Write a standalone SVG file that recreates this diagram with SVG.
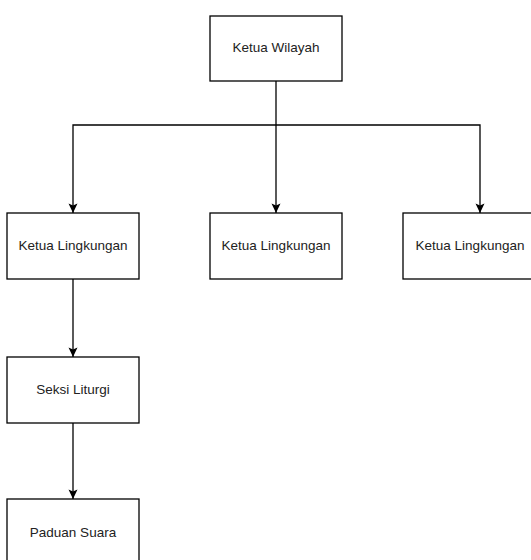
<svg xmlns="http://www.w3.org/2000/svg" width="531" height="560" viewBox="0 0 531 560">
<style>
.box{fill:#ffffff;stroke:#000000;stroke-width:1.3}
.lbl{font-family:"Liberation Sans",Arial,sans-serif;font-size:13.5px;fill:#222222;text-anchor:middle;dominant-baseline:central}
.edge{fill:none;stroke:#000000;stroke-width:1.3}
</style>
<defs>
<marker id="arr" markerUnits="userSpaceOnUse" markerWidth="12" markerHeight="12" viewBox="0 0 12 12" refX="10" refY="6" orient="auto">
<path d="M10,6 L0.5,1.5 L2.5,6 L0.5,10.5 Z" fill="#000000"/>
</marker>
</defs>
<rect width="531" height="560" fill="#ffffff"/>
<g id="connectors">
<path class="edge" d="M276,81 L276,213" marker-end="url(#arr)"/>
<path class="edge" d="M276,125 L73,125 L73,213" marker-end="url(#arr)"/>
<path class="edge" d="M276,125 L480,125 L480,213" marker-end="url(#arr)"/>
<path class="edge" d="M73,279 L73,357" marker-end="url(#arr)"/>
<path class="edge" d="M73,423 L73,499" marker-end="url(#arr)"/>
</g>
<g id="ketua-wilayah">
<rect class="box" x="210" y="16" width="132" height="65"/>
<text class="lbl" x="276" y="47">Ketua Wilayah</text>
</g>
<g id="ketua-lingkungan-1">
<rect class="box" x="7" y="213" width="132" height="66"/>
<text class="lbl" x="73" y="245">Ketua Lingkungan</text>
</g>
<g id="ketua-lingkungan-2">
<rect class="box" x="210" y="213" width="132" height="66"/>
<text class="lbl" x="276" y="245">Ketua Lingkungan</text>
</g>
<g id="ketua-lingkungan-3">
<rect class="box" x="403" y="213" width="132" height="66"/>
<text class="lbl" x="470" y="245">Ketua Lingkungan</text>
</g>
<g id="seksi-liturgi">
<rect class="box" x="7" y="357" width="132" height="66"/>
<text class="lbl" x="73" y="389">Seksi Liturgi</text>
</g>
<g id="paduan-suara">
<rect class="box" x="7" y="499" width="132" height="66"/>
<text class="lbl" x="73" y="532">Paduan Suara</text>
</g>
</svg>
